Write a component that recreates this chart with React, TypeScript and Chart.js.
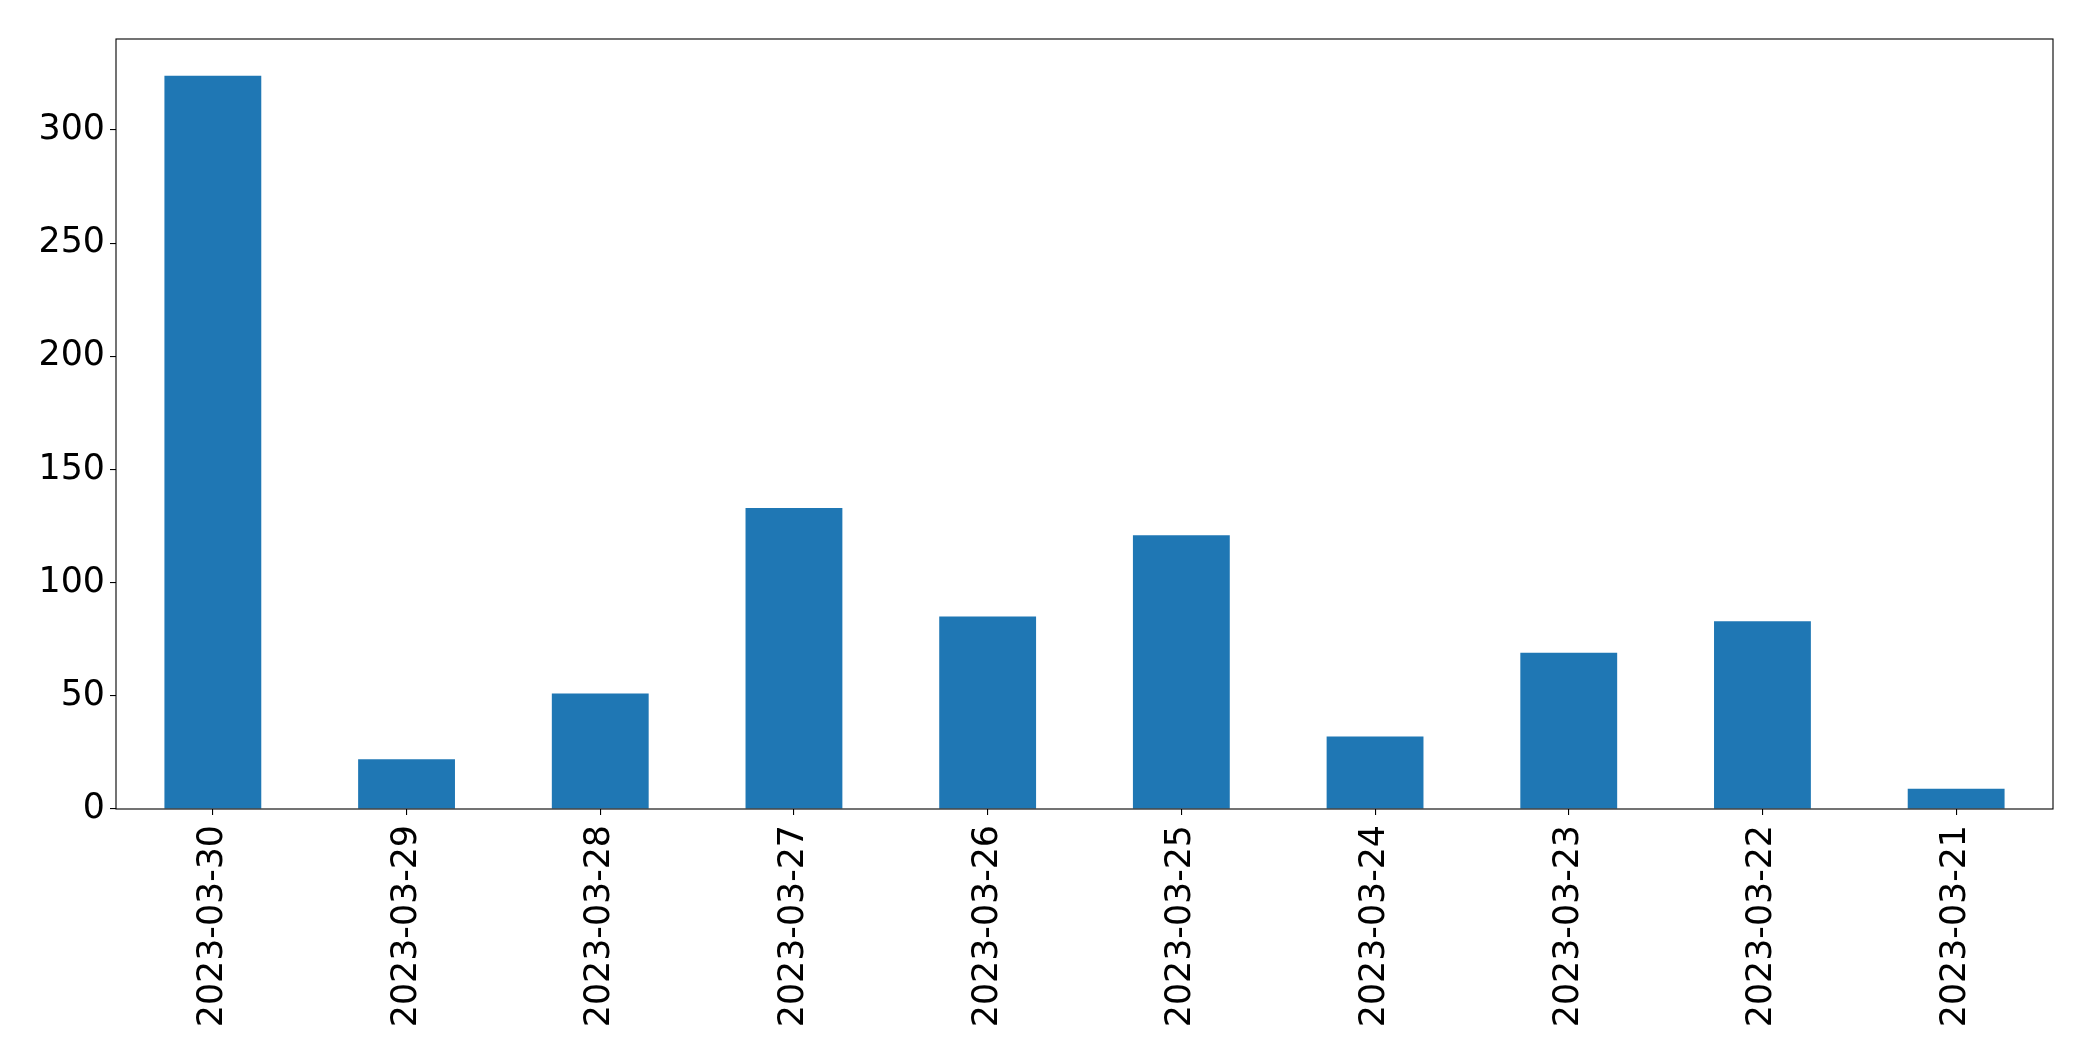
import React, { useEffect, useRef } from "react";
import { Chart, registerables } from "chart.js";

Chart.register(...registerables);

const categories = [
  "2023-03-30",
  "2023-03-29",
  "2023-03-28",
  "2023-03-27",
  "2023-03-26",
  "2023-03-25",
  "2023-03-24",
  "2023-03-23",
  "2023-03-22",
  "2023-03-21",
];
const counts = [324, 22, 51, 133, 85, 121, 32, 69, 83, 9];
const yTicks = [0, 50, 100, 150, 200, 250, 300];
const yMax = 340.2;

const W = 2093;
const H = 1061;

export default function App() {
  const ref = useRef<HTMLCanvasElement | null>(null);

  useEffect(() => {
    document.body.style.margin = "0";
    const canvas = ref.current;
    if (!canvas) return;
    const frame = {
      id: "frame",
      afterDraw(chart: any) {
        const { ctx, chartArea } = chart;
        ctx.save();
        ctx.strokeStyle = "#000";
        ctx.lineWidth = 1.1;
        ctx.strokeRect(
          chartArea.left,
          chartArea.top,
          chartArea.right - chartArea.left,
          chartArea.bottom - chartArea.top
        );
        ctx.restore();
      },
    };
    const font = { family: "'DejaVu Sans', sans-serif", size: 34.8 };
    const chart = new Chart(canvas, {
      type: "bar",
      data: {
        labels: categories,
        datasets: [
          {
            data: counts,
            backgroundColor: "#1f77b4",
            borderWidth: 0,
            categoryPercentage: 1,
            barPercentage: 0.5,
          },
        ],
      },
      options: {
        animation: false,
        responsive: false,
        devicePixelRatio: 1,
        layout: { padding: { top: 39, right: 40, left: 0, bottom: 0 } },
        plugins: {
          legend: { display: false },
          tooltip: { enabled: false },
          title: { display: false },
        },
        scales: {
          x: {
            offset: true,
            grid: {
              display: true,
              offset: false,
              drawOnChartArea: false,
              drawTicks: true,
              tickLength: 6,
              color: "#000",
              lineWidth: 1.1,
            },
            border: { display: false },
            ticks: {
              autoSkip: false,
              minRotation: 90,
              maxRotation: 90,
              padding: 10,
              color: "#000",
              font,
            },
            afterFit(scale: any) {
              scale.height = H - 809;
            },
          },
          y: {
            min: 0,
            max: yMax,
            grid: {
              display: true,
              drawOnChartArea: false,
              drawTicks: true,
              tickLength: 6,
              color: "#000",
              lineWidth: 1.1,
            },
            border: { display: false },
            ticks: {
              padding: 5,
              color: "#000",
              font,
            },
            afterBuildTicks(scale: any) {
              scale.ticks = yTicks.map((v) => ({ value: v }));
            },
            afterFit(scale: any) {
              scale.width = 116;
            },
          },
        },
      },
      plugins: [frame],
    });
    return () => chart.destroy();
  }, []);

  return (
    <div style={{ position: "absolute", left: 0, top: 0, width: W, height: H, background: "#fff" }}>
      <canvas ref={ref} width={W} height={H} style={{ display: "block" }} />
    </div>
  );
}
